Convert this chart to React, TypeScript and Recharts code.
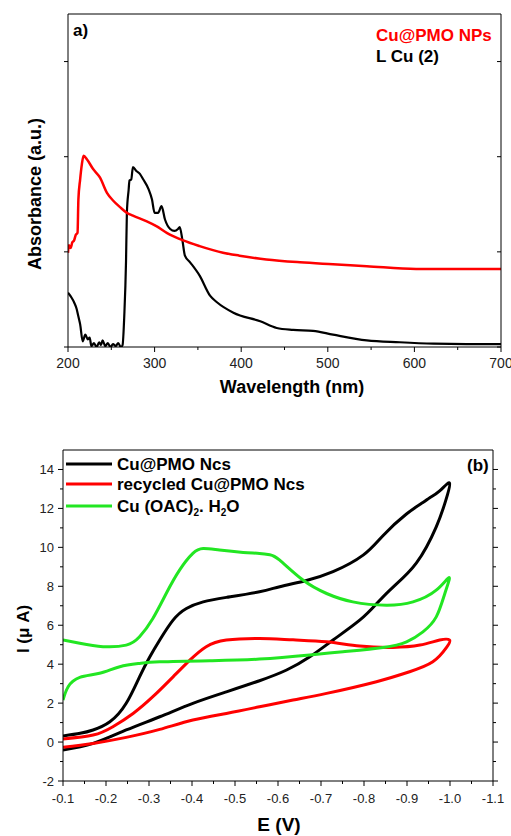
import React from 'react';
import { LineChart, Line, XAxis, YAxis } from 'recharts';

/* ---------- panel (a): UV-vis ---------- */
const UV_RED_WL = [200, 201, 203, 205, 207, 209, 211, 212, 214, 216, 218, 222, 229, 237, 245, 252, 260, 268, 275, 291, 302, 314, 333, 352, 379, 398, 429, 468, 506, 545, 602, 650, 700];
const UV_RED_ABS = [0.99, 1.07, 1.04, 1.1, 1.12, 1.18, 1.2, 1.55, 1.76, 1.92, 2.01, 1.97, 1.87, 1.78, 1.62, 1.54, 1.47, 1.41, 1.38, 1.32, 1.27, 1.2, 1.12, 1.06, 0.99, 0.96, 0.92, 0.89, 0.87, 0.85, 0.82, 0.82, 0.82];

const UV_BLACK_WL = [200, 204, 207, 210, 212, 214, 217, 220, 223, 225, 227, 230, 233, 236, 238, 240, 243, 246, 249, 252, 255, 258, 261, 263, 265, 267, 268, 270, 271, 273, 275, 279, 283, 287, 293, 297, 300, 304, 308, 312, 318, 323, 327, 329, 332, 335, 341, 352, 364, 372, 391, 422, 441, 460, 483, 506, 545, 583, 622, 660, 700];
const UV_BLACK_ABS = [0.57, 0.52, 0.47, 0.4, 0.32, 0.24, 0.06, 0.13, 0.08, 0.1, 0.01, 0.04, 0.0, 0.05, 0.02, 0.07, 0.01, 0.04, 0.0, 0.03, 0.01, 0.04, 0.0, 0.02, 0.33, 0.9, 1.41, 1.65, 1.75, 1.76, 1.89, 1.85, 1.82, 1.76, 1.66, 1.55, 1.41, 1.41, 1.48, 1.34, 1.24, 1.22, 1.24, 1.26, 1.13, 0.96, 0.89, 0.75, 0.54, 0.47, 0.36, 0.27, 0.2, 0.18, 0.17, 0.13, 0.07, 0.05, 0.035, 0.03, 0.03];

const UV_X_TICKS = [200, 250, 300, 350, 400, 450, 500, 550, 600, 650, 700];
const UV_Y_TICKS = [0, 1, 2, 3];

/* ---------- panel (b): cyclic voltammetry ---------- */
const CV_PMO_E = [-0.1, -0.14, -0.17, -0.209, -0.247, -0.278, -0.302, -0.325, -0.356, -0.387, -0.426, -0.48, -0.557, -0.604, -0.666, -0.728, -0.798, -0.844, -0.898, -0.937, -0.953, -0.976, -0.999, -0.99, -0.968, -0.922, -0.867, -0.829, -0.79, -0.728, -0.674, -0.62, -0.557, -0.48, -0.402, -0.325, -0.247, -0.17, -0.1];
const CV_PMO_I = [0.31, 0.45, 0.62, 1.04, 1.99, 3.35, 4.38, 5.24, 6.26, 6.86, 7.2, 7.43, 7.72, 7.98, 8.3, 8.75, 9.6, 10.6, 11.7, 12.3, 12.55, 12.9, 13.3, 12.4, 11.05, 9.2, 7.95, 7.1, 6.26, 5.24, 4.38, 3.7, 3.15, 2.58, 1.99, 1.3, 0.62, -0.07, -0.41];

const CV_REC_E = [-0.1, -0.17, -0.216, -0.263, -0.309, -0.356, -0.395, -0.433, -0.48, -0.557, -0.635, -0.713, -0.79, -0.867, -0.93, -0.976, -0.999, -0.992, -0.96, -0.906, -0.829, -0.713, -0.635, -0.557, -0.48, -0.402, -0.325, -0.247, -0.17, -0.1];
const CV_REC_I = [0.16, 0.36, 0.79, 1.47, 2.33, 3.35, 4.21, 4.9, 5.24, 5.32, 5.25, 5.15, 4.93, 4.86, 4.98, 5.24, 5.24, 4.86, 4.12, 3.61, 3.1, 2.5, 2.16, 1.81, 1.47, 1.13, 0.65, 0.24, -0.07, -0.27];

const CV_OAC_E = [-0.1, -0.139, -0.193, -0.247, -0.278, -0.309, -0.34, -0.371, -0.402, -0.426, -0.464, -0.519, -0.557, -0.581, -0.604, -0.658, -0.713, -0.774, -0.852, -0.914, -0.968, -0.998, -0.988, -0.968, -0.937, -0.899, -0.844, -0.751, -0.674, -0.557, -0.441, -0.325, -0.278, -0.232, -0.185, -0.139, -0.112, -0.1];
const CV_OAC_I = [5.24, 5.07, 4.9, 4.98, 5.41, 6.35, 7.63, 8.83, 9.69, 9.94, 9.86, 9.74, 9.69, 9.62, 9.34, 8.32, 7.63, 7.2, 7.03, 7.2, 7.8, 8.45, 7.63, 6.43, 5.66, 5.15, 4.86, 4.64, 4.47, 4.26, 4.18, 4.12, 4.04, 3.87, 3.53, 3.32, 2.84, 2.16];

const CV_X_TICKS = [-0.1, -0.15, -0.2, -0.25, -0.3, -0.35, -0.4, -0.45, -0.5, -0.55, -0.6, -0.65, -0.7, -0.75, -0.8, -0.85, -0.9, -0.95, -1.0, -1.05, -1.1];
const CV_Y_TICKS = [-2, -1, 0, 1, 2, 3, 4, 5, 6, 7, 8, 9, 10, 11, 12, 13, 14];

const FONT = '"Liberation Sans", Arial, sans-serif';
const RED = '#ff0000';
const GREEN = '#22e622';

const zip = (xs: number[], ys: number[]) => xs.map((x, i) => ({ x, y: ys[i] }));

const uvRed = zip(UV_RED_WL, UV_RED_ABS);
const uvBlack = zip(UV_BLACK_WL, UV_BLACK_ABS);
const cvPmo = zip(CV_PMO_E, CV_PMO_I);
const cvRec = zip(CV_REC_E, CV_REC_I);
const cvOac = zip(CV_OAC_E, CV_OAC_I);

const isMajor = (v: number, step: number) => Math.abs(Math.round(v / step) * step - v) < 1e-6;

/* ---------- tick renderers ---------- */
const uvXTick = (p: any) => {
  const major = isMajor(p.payload.value, 100);
  return (
    <g>
      <line x1={p.x} x2={p.x} y1={p.y} y2={p.y + (major ? 5 : 3)} stroke="#000" />
      {major && (
        <text x={p.x} y={p.y + 21} textAnchor="middle" fontSize={14} fontFamily={FONT} fill="#222">
          {p.payload.value}
        </text>
      )}
    </g>
  );
};

const uvYLeftTick = (p: any) => <line x1={p.x - 4} x2={p.x} y1={p.y} y2={p.y} stroke="#000" />;
const uvYRightTick = (p: any) => <line x1={p.x - 4} x2={p.x} y1={p.y} y2={p.y} stroke="#000" />;
const noTick = () => <g />;

const cvXTick = (p: any) => {
  const major = isMajor(p.payload.value, 0.1);
  return (
    <g>
      <line x1={p.x} x2={p.x} y1={p.y} y2={p.y + (major ? 5 : 3)} stroke="#000" />
      {major && (
        <text x={p.x} y={p.y + 22} textAnchor="middle" fontSize={13} fontFamily={FONT} fill="#222">
          {p.payload.value.toFixed(1)}
        </text>
      )}
    </g>
  );
};

const cvYLeftTick = (p: any) => {
  const major = isMajor(p.payload.value, 2);
  return (
    <g>
      <line x1={p.x - (major ? 5 : 3)} x2={p.x} y1={p.y} y2={p.y} stroke="#000" />
      {major && (
        <text x={p.x - 9} y={p.y + 4.5} textAnchor="end" fontSize={13} fontFamily={FONT} fill="#222">
          {p.payload.value}
        </text>
      )}
    </g>
  );
};

const cvYRightTick = (p: any) => {
  const major = isMajor(p.payload.value, 2);
  return <line x1={p.x} x2={p.x + (major ? 5 : 3)} y1={p.y} y2={p.y} stroke="#000" />;
};

const App: React.FC = () => {
  return (
    <div style={{ position: 'absolute', left: 0, top: 0, width: 511, height: 836, background: '#fff' }}>
      {/* ================= (a) ================= */}
      <div style={{ position: 'absolute', left: 0, top: 0 }}>
        <LineChart width={511} height={400} margin={{ top: 13, right: 9, bottom: 0, left: 0 }}>
          <XAxis
            xAxisId="b"
            type="number"
            dataKey="x"
            domain={[200, 700]}
            ticks={UV_X_TICKS}
            interval={0}
            height={53}
            tickSize={0}
            tickMargin={0}
            tickLine={false}
            tick={uvXTick}
            axisLine={{ stroke: '#000' }}
            allowDataOverflow
          />
          <XAxis
            xAxisId="t"
            type="number"
            dataKey="x"
            orientation="top"
            domain={[200, 700]}
            ticks={UV_X_TICKS}
            height={1}
            tickSize={0}
            tickMargin={0}
            tickLine={false}
            tick={noTick}
            axisLine={{ stroke: '#000' }}
            allowDataOverflow
          />
          <YAxis
            yAxisId="l"
            type="number"
            domain={[0, 3.5]}
            ticks={UV_Y_TICKS}
            interval={0}
            width={68}
            tickSize={0}
            tickMargin={0}
            tickLine={false}
            tick={uvYLeftTick}
            axisLine={{ stroke: '#000' }}
            allowDataOverflow
          />
          <YAxis
            yAxisId="r"
            orientation="right"
            type="number"
            domain={[0, 3.5]}
            ticks={UV_Y_TICKS}
            interval={0}
            width={1}
            tickSize={0}
            tickMargin={0}
            tickLine={false}
            tick={uvYRightTick}
            axisLine={{ stroke: '#000' }}
            allowDataOverflow
          />
          {/* invisible series so the frame axes get drawn */}
          <Line data={uvRed} dataKey="y" xAxisId="t" yAxisId="r" stroke="none" dot={false} activeDot={false} legendType="none" isAnimationActive={false} />
          <Line data={uvBlack} dataKey="y" xAxisId="b" yAxisId="l" type="monotone" stroke="#000" strokeWidth={2.2} dot={false} activeDot={false} isAnimationActive={false} />
          <Line data={uvRed} dataKey="y" xAxisId="b" yAxisId="l" type="monotone" stroke={RED} strokeWidth={2.5} dot={false} activeDot={false} isAnimationActive={false} />
        </LineChart>
      </div>

      {/* ================= (b) ================= */}
      <div style={{ position: 'absolute', left: 0, top: 400 }}>
        <LineChart width={511} height={436} margin={{ top: 49, right: 17, bottom: 0, left: 0 }}>
          <XAxis
            xAxisId="b"
            type="number"
            dataKey="x"
            domain={[-1.1, -0.1]}
            reversed
            ticks={CV_X_TICKS}
            interval={0}
            height={55}
            tickSize={0}
            tickMargin={0}
            tickLine={false}
            tick={cvXTick}
            axisLine={{ stroke: '#000' }}
            allowDataOverflow
          />
          <XAxis
            xAxisId="t"
            type="number"
            dataKey="x"
            orientation="top"
            domain={[-1.1, -0.1]}
            reversed
            ticks={CV_X_TICKS}
            height={1}
            tickSize={0}
            tickMargin={0}
            tickLine={false}
            tick={noTick}
            axisLine={{ stroke: '#000' }}
            allowDataOverflow
          />
          <YAxis
            yAxisId="l"
            type="number"
            domain={[-2, 15]}
            ticks={CV_Y_TICKS}
            interval={0}
            width={63}
            tickSize={0}
            tickMargin={0}
            tickLine={false}
            tick={cvYLeftTick}
            axisLine={{ stroke: '#000' }}
            allowDataOverflow
          />
          <YAxis
            yAxisId="r"
            orientation="right"
            type="number"
            domain={[-2, 15]}
            ticks={CV_Y_TICKS}
            interval={0}
            width={1}
            tickSize={0}
            tickMargin={0}
            tickLine={false}
            tick={cvYRightTick}
            axisLine={{ stroke: '#000' }}
            allowDataOverflow
          />
          {/* invisible series so the frame axes get drawn */}
          <Line data={cvRec} dataKey="y" xAxisId="t" yAxisId="r" stroke="none" dot={false} activeDot={false} legendType="none" isAnimationActive={false} />
          <Line data={cvPmo} dataKey="y" xAxisId="b" yAxisId="l" type="natural" stroke="#000" strokeWidth={3} dot={false} activeDot={false} isAnimationActive={false} />
          <Line data={cvRec} dataKey="y" xAxisId="b" yAxisId="l" type="natural" stroke={RED} strokeWidth={3} dot={false} activeDot={false} isAnimationActive={false} />
          <Line data={cvOac} dataKey="y" xAxisId="b" yAxisId="l" type="natural" stroke={GREEN} strokeWidth={3} dot={false} activeDot={false} isAnimationActive={false} />
        </LineChart>
      </div>

      {/* ================= labels & legends ================= */}
      <svg width={511} height={836} style={{ position: 'absolute', left: 0, top: 0, pointerEvents: 'none' }} fontFamily={FONT} fontWeight="bold">
        <text x={73} y={36} fontSize={17} fill="#000">a)</text>
        <text x={376} y={41} fontSize={17} fill={RED}>Cu@PMO NPs</text>
        <text x={376} y={62} fontSize={17} fill="#000">L Cu (2)</text>
        <text transform="translate(41,194) rotate(-90)" textAnchor="middle" fontSize={18} fill="#000">Absorbance (a.u.)</text>
        <text x={292} y={393} textAnchor="middle" fontSize={18} fill="#000">Wavelength (nm)</text>

        <text x={467} y={471} fontSize={17} fill="#000">(b)</text>
        <line x1={66} x2={112} y1={464} y2={464} stroke="#000" strokeWidth={3} />
        <text x={117} y={470} fontSize={17} fill="#000">Cu@PMO Ncs</text>
        <line x1={66} x2={112} y1={484} y2={484} stroke={RED} strokeWidth={3} />
        <text x={117} y={490} fontSize={17} fill="#000">recycled Cu@PMO Ncs</text>
        <line x1={66} x2={112} y1={506} y2={506} stroke={GREEN} strokeWidth={3} />
        <text x={117} y={512} fontSize={17} fill="#000">
          <tspan>Cu (OAC)</tspan>
          <tspan fontSize={10} dy={4}>2</tspan>
          <tspan dy={-4}>. H</tspan>
          <tspan fontSize={10} dy={4}>2</tspan>
          <tspan dy={-4}>O</tspan>
        </text>
        <text transform="translate(29,629) rotate(-90)" textAnchor="middle" fontSize={17} fill="#000">I (μ A)</text>
        <text x={279} y={831} textAnchor="middle" fontSize={19} fill="#000">E (V)</text>
      </svg>
    </div>
  );
};

export default App;
